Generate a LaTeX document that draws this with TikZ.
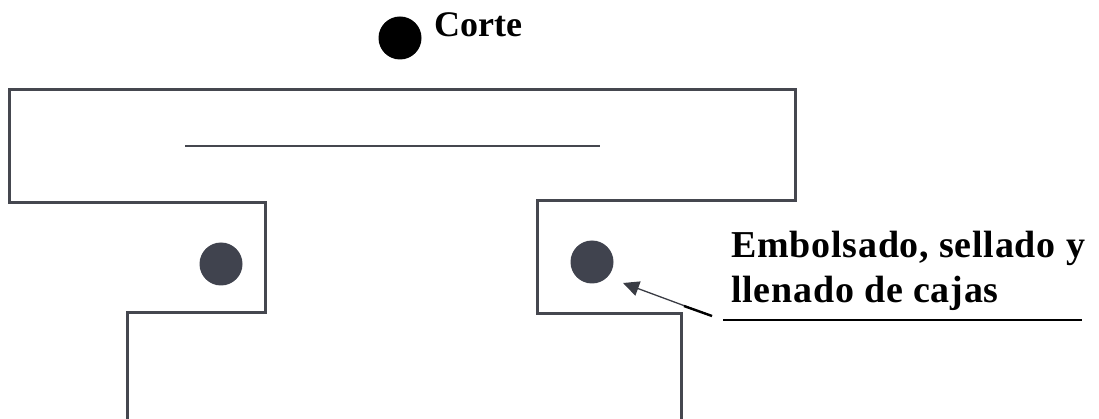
\documentclass[tikz,border=0pt]{standalone}
\usepackage{fontspec}
\setmainfont{Liberation Serif}
\usetikzlibrary{arrows.meta}
\definecolor{wallgray}{HTML}{45474F}
\definecolor{dotgray}{HTML}{40434E}
\definecolor{arrowgray}{HTML}{3A3C44}
\tikzset{
  wall/.style={draw=wallgray, line width=3pt, line join=miter},
  thinline/.style={draw=wallgray, line width=1.4pt},
  dotnode/.style={circle, fill=dotgray, minimum size=43pt, inner sep=0pt},
  blackdot/.style={circle, fill=black, minimum size=43pt, inner sep=0pt},
  lbl/.style={inner sep=0pt, font=\fontsize{36}{40}\selectfont\bfseries},
  biglbl/.style={inner sep=0pt, font=\fontsize{38}{44}\addfontfeatures{LetterSpace=2}\bfseries},
  pointer/.style={draw=arrowgray, line width=1.3pt, -{Triangle[length=16pt,width=15pt]}},
}
\begin{document}
\begin{tikzpicture}[x=1pt,y=-1pt]
\useasboundingbox (0,0) rectangle (1099,419);
% outline
\draw[wall] (127,425) -- (127,312) -- (265,312) -- (265,203) -- (9,203) -- (9,90)
  -- (795,90) -- (795,201) -- (537,201) -- (537,313) -- (681,313) -- (681,425);
% inner line
\coordinate (il) at (185,146);
\coordinate (ir) at (600,146);
\draw[thinline] (il) -- (ir);
% dots
\node[blackdot] (cdot) at (400,38) {};
\node[lbl, anchor=base west] (corte) at (434,37) {Corte};
\node[dotnode] (ldot) at (221,264) {};
\node[dotnode] (rdot) at (592,262) {};
% label
\node[biglbl, anchor=base west] (l1) at (731,258) {Embolsado, sellado y};
\node[biglbl, anchor=base west] (l2) at (731,302) {llenado de cajas};
\coordinate (ul) at (723,320);
\coordinate (ur) at (1082,320);
\draw[black, line width=1.6pt] (ul) -- (ur);
% arrow
\coordinate (tail) at (712,316);
\coordinate (tip) at (623,283);
\coordinate (mid) at (684,306);
\draw[pointer] (tail) -- (tip);
\draw[black, line width=2.4pt] (tail) -- (mid);
\end{tikzpicture}
\end{document}
